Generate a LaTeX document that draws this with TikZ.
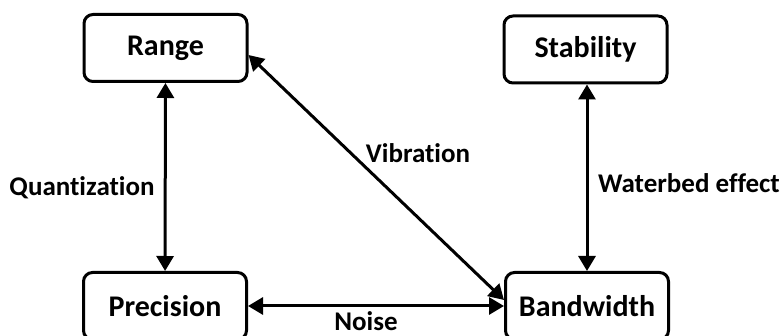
\documentclass[tikz,border=0pt]{standalone}
\usepackage{fontspec}
\setmainfont{Carlito}[Ligatures=NoCommon]
\usetikzlibrary{arrows.meta}
\usetikzlibrary{positioning}

\tikzset{
  factor/.style={draw, line width=3pt, rounded corners=9pt, minimum width=163pt,
    minimum height=67pt, font=\fontsize{30}{34}\selectfont\bfseries},
  tradeoff/.style={line width=3pt, {Triangle[length=15pt,width=17pt]}-{Triangle[length=15pt,width=17pt]}},
  effect/.style={inner sep=1pt, font=\fontsize{27}{31}\selectfont\bfseries}
}

\begin{document}
\begin{tikzpicture}[x=1pt, y=-1pt]
    \useasboundingbox (0, 0) rectangle (781, 336);

    \node [factor] (range) at (165.5, 48) {Range};
    \node [factor] (stability) at (585.5, 49.5) {Stability};
    \node [factor] (precision) at (165, 306) {Precision};
    \node [factor] (bandwidth) at (587, 306) {Bandwidth};

    \draw [tradeoff] (range) -- (precision);
    \draw [tradeoff] (stability.south -| 587, 0) -- (bandwidth.north);
    \draw [tradeoff] ([yshift=-7pt]range.east) -- ([yshift=6pt]bandwidth.west);
    \draw [tradeoff] (precision.east) -- (bandwidth.west);

    \node [effect] (quant) at (82, 188) {Quantization};
    \node [effect] (vib) at (418, 153) {Vibration};
    \node [effect] (waterbed) at (689, 183) {Waterbed effect};
    \node [effect] (noise) at (366, 321) {Noise};
  \end{tikzpicture}
\end{document}
